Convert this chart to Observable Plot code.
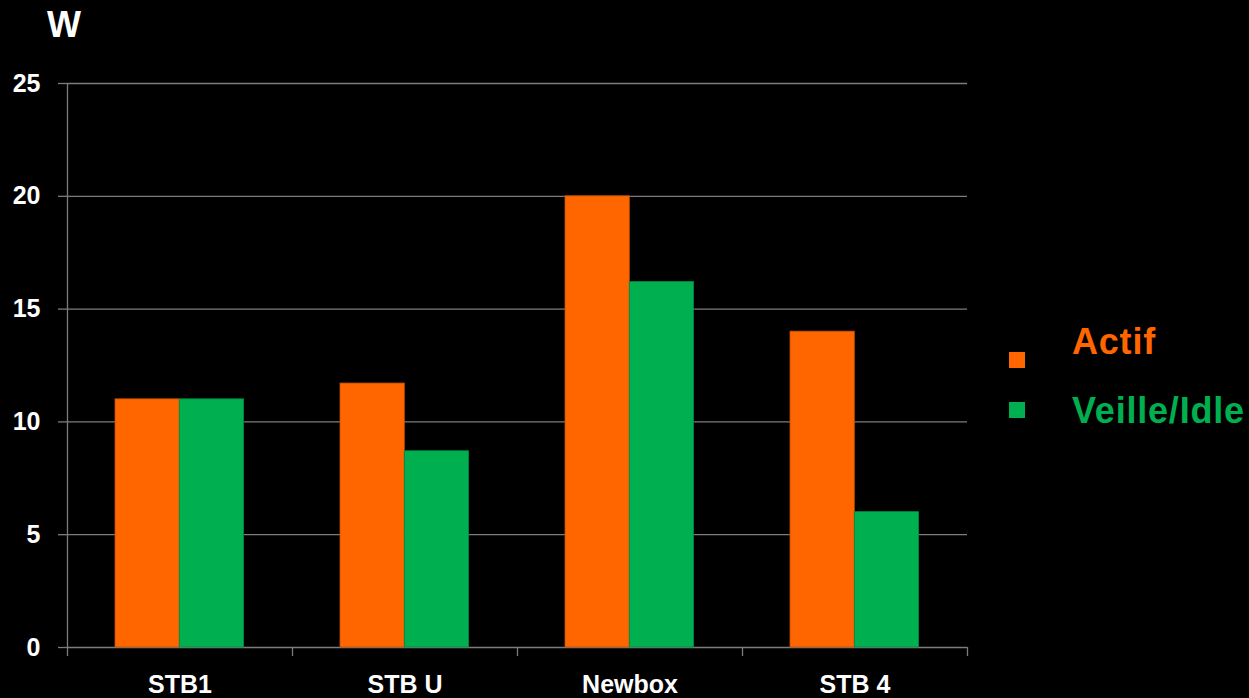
<!DOCTYPE html>
<html>
<head>
<meta charset="utf-8">
<script src="https://cdn.jsdelivr.net/npm/d3@7"></script>
<script src="https://cdn.jsdelivr.net/npm/@observablehq/plot@0.6"></script>
<style>
  html, body { margin: 0; padding: 0; background: #000; }
  #chart { position: relative; width: 1249px; height: 698px; background: #000; overflow: hidden; }
  #chart svg { display: block; }
  #overlay { position: absolute; left: 0; top: 0; pointer-events: none; }
</style>
</head>
<body>
<div id="chart"></div>
<script>
// Power draw (W) per set-top box, active vs. standby
const categories = ["STB1", "STB U", "Newbox", "STB 4"];
const actif = [11, 11.7, 20, 14];
const veille = [11, 8.7, 16.2, 6];
const yTicks = [0, 5, 10, 15, 20, 25];
const seriesNames = ["Actif", "Veille/Idle"];
const seriesColors = ["#FF6600", "#00B050"];
const unitLabel = "W";

const FONT = "'Liberation Sans', Arial, Helvetica, sans-serif";
const GRID = "#7c7c7c";

const rowsActif = categories.map((c, i) => ({i, category: c, value: actif[i]}));
const rowsVeille = categories.map((c, i) => ({i, category: c, value: veille[i]}));

const W = 1249, H = 698;
const marginLeft = 67, marginRight = 282, marginTop = 83, marginBottom = 51;
const slot = (W - marginLeft - marginRight) / categories.length;
const barW = 64.3, outer = 48;

const plot = Plot.plot({
  width: W,
  height: H,
  marginLeft, marginRight, marginTop, marginBottom,
  style: {background: "#000", color: "#fff", fontFamily: FONT},
  x: {type: "linear", domain: [0, categories.length], axis: null},
  y: {domain: [0, 25], axis: null},
  marks: [
    Plot.gridY(yTicks, {stroke: GRID, strokeOpacity: 1, strokeWidth: 1.3}),
    Plot.axisY(yTicks, {
      tickSize: 9, tickPadding: 18, stroke: GRID, strokeWidth: 1.3,
      fill: "#fff", fontSize: 25, fontWeight: "bold", label: null
    }),
    // category boundaries along the baseline
    Plot.axisX(d3.range(categories.length + 1), {
      tickSize: 9, stroke: GRID, strokeWidth: 1.3, tickFormat: () => "", label: null
    }),
    Plot.ruleX([0], {stroke: GRID, strokeWidth: 1.3}),
    Plot.rectY(rowsActif, {
      x1: "i", x2: d => d.i + 1, y: "value",
      fill: seriesColors[0], stroke: "#c24e00", strokeWidth: 0.8,
      insetLeft: outer, insetRight: slot - outer - barW
    }),
    Plot.rectY(rowsVeille, {
      x1: "i", x2: d => d.i + 1, y: "value",
      fill: seriesColors[1], stroke: "#008a40", strokeWidth: 0.8,
      insetLeft: outer + barW, insetRight: slot - outer - 2 * barW
    }),
    // category names centred in each slot
    Plot.axisX(categories.map((c, i) => i + 0.5), {
      tickSize: 0, tickPadding: 28,
      tickFormat: d => categories[Math.floor(d)],
      fill: "#fff", fontSize: 25, fontWeight: "bold", label: null
    })
  ]
});

const chart = document.getElementById("chart");
chart.appendChild(plot);

// unit label and legend
const overlay = d3.select(chart).append("svg")
  .attr("id", "overlay")
  .attr("width", W).attr("height", H)
  .style("font-family", FONT);

overlay.append("text")
  .attr("x", 47).attr("y", 37)
  .attr("fill", "#fff")
  .attr("font-size", 36).attr("font-weight", "bold")
  .text(unitLabel);

const legend = overlay.append("g");
const legendRows = [
  {sq: 352, base: 354},
  {sq: 402, base: 423}
];
seriesNames.forEach((name, k) => {
  legend.append("rect")
    .attr("x", 1009).attr("y", legendRows[k].sq)
    .attr("width", 16).attr("height", 16)
    .attr("fill", seriesColors[k]);
  legend.append("text")
    .attr("x", 1072).attr("y", legendRows[k].base)
    .attr("fill", seriesColors[k])
    .attr("font-size", 36).attr("font-weight", "bold")
    .attr("letter-spacing", 0.8)
    .text(name);
});
</script>
</body>
</html>
